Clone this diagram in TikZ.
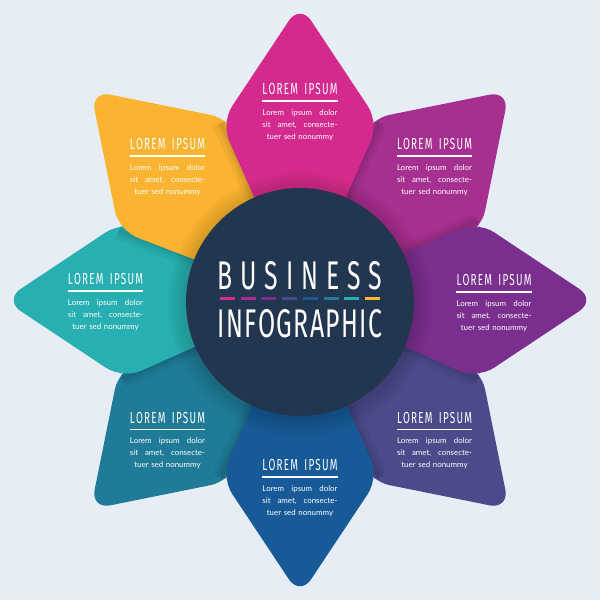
\documentclass[tikz,border=0pt]{standalone}
\usepackage{fontspec}
\usepackage{tikz}
\usetikzlibrary{positioning}
\newfontfamily\headfont[FakeStretch=0.62]{Fira Sans}
\newfontfamily\titlefont[FakeStretch=0.62]{Fira Sans}
\newfontfamily\bodyfont{Lato}

\definecolor{bgpage}{HTML}{E6EDF4}
\definecolor{petalN}{HTML}{D52A8D}
\definecolor{petalNE}{HTML}{A6308F}
\definecolor{petalE}{HTML}{7A2F8E}
\definecolor{petalSE}{HTML}{4B4A8B}
\definecolor{petalS}{HTML}{175A97}
\definecolor{petalSW}{HTML}{1F7B97}
\definecolor{petalW}{HTML}{27AFB1}
\definecolor{petalNW}{HTML}{FAB431}
\definecolor{hubcolor}{HTML}{233650}

\newcommand{\gap}{\hspace{0pt plus 1fill}}
\newcommand{\headtext}{\makebox[75pt][s]{L\gap O\gap R\gap E\gap M\gap\hspace{4pt}\gap I\gap P\gap S\gap U\gap M}}
\newcommand{\bodytext}{\makebox[75pt][s]{Lorem\gap ipsum\gap dolor}\\\makebox[75pt][s]{sit\gap amet,\gap consecte-}\\tuer sed nonummy}

\tikzset{
  petal/.style={fill=#1, rounded corners=20pt},
  edgeshade/.style={draw=black, draw opacity=0.06, line width=4pt, line join=round,
    preaction={draw=black, draw opacity=0.05, line width=10pt, line join=round},
    preaction={draw=black, draw opacity=0.04, line width=18pt, line join=round}},
  hubshade/.style={fill=black, fill opacity=0.025},
  head/.style={text=white, inner sep=0pt, font=\headfont\fontsize{16}{16}\selectfont},
  body/.style={text=white, inner sep=0pt, text width=75pt, align=center,
    font=\bodyfont\fontsize{7.9}{12}\selectfont},
  rule/.style={draw=white, line width=1.6pt},
  title/.style={text=white, inner sep=0pt, font=\titlefont\fontsize{40}{40}\selectfont},
  stripe/.style={fill=#1}
}

\begin{document}
\begin{tikzpicture}[x=1pt,y=1pt]
\useasboundingbox (-300,-300) rectangle (300,300);
\fill[bgpage] (-300,-300) rectangle (300,300);

% petals, lowest first
\draw[edgeshade] (21:194) -- (0,0) -- (69:194);
\fill[petal=petalNE] (0,0) -- (21:194) -- (45:296) -- (69:194) -- cycle;
\draw[edgeshade] (201:194) -- (0,0) -- (249:194);
\fill[petal=petalSW] (0,0) -- (201:194) -- (225:296) -- (249:194) -- cycle;
\draw[edgeshade] (291:194) -- (0,0) -- (339:194);
\fill[petal=petalSE] (0,0) -- (291:194) -- (315:296) -- (339:194) -- cycle;
\draw[edgeshade] (156:194) -- (0,0) -- (204:194);
\fill[petal=petalW] (0,0) -- (156:194) -- (180:296) -- (204:194) -- cycle;
\draw[edgeshade] (111:194) -- (0,0) -- (159:194);
\fill[petal=petalNW] (0,0) -- (111:194) -- (135:296) -- (159:194) -- cycle;
\draw[edgeshade] (66:194) -- (0,0) -- (114:194);
\fill[petal=petalN] (0,0) -- (66:194) -- (90:296) -- (114:194) -- cycle;
\draw[edgeshade] (-24:194) -- (0,0) -- (24:194);
\fill[petal=petalE] (0,0) -- (-24:194) -- (0:296) -- (24:194) -- cycle;
\draw[edgeshade] (246:194) -- (0,0) -- (294:194);
\fill[petal=petalS] (0,0) -- (246:194) -- (270:296) -- (294:194) -- cycle;

% centre
\coordinate (O) at (0,-2);
\fill[hubshade] (0,-4) circle (132);
\fill[hubshade] (0,-4) circle (129);
\fill[hubshade] (0,-4) circle (126);
\fill[hubshade] (0,-4) circle (123);
\fill[hubshade] (0,-4) circle (120);
\fill[hubshade] (0,-4) circle (117);
\node[circle, fill=hubcolor, minimum size=228pt, inner sep=0pt] (hub) at (O) {};
\node[title] (business) at (0,24) {\makebox[165pt][s]{B\gap U\gap S\gap I\gap N\gap E\gap S\gap S}};
\node[title] (infographic) at (0,-23.5) {\makebox[165pt][s]{I\gap N\gap F\gap O\gap G\gap R\gap A\gap P\gap H\gap I\gap C}};
\fill[stripe=petalN] (-80,0) rectangle (-65,2.6);
\fill[stripe=petalNE] (-59.3,0) rectangle (-44.3,2.6);
\fill[stripe=petalE] (-38.6,0) rectangle (-23.6,2.6);
\fill[stripe=petalSE] (-17.9,0) rectangle (-2.9,2.6);
\fill[stripe=petalS] (2.9,0) rectangle (17.9,2.6);
\fill[stripe=petalSW] (23.6,0) rectangle (38.6,2.6);
\fill[stripe=petalW] (44.3,0) rectangle (59.3,2.6);
\fill[stripe=petalNW] (65,0) rectangle (80,2.6);

% text blocks
\node[head] (headN) at (0,211) {\headtext};
\draw[rule] ([yshift=-6pt]headN.south west) -- ([yshift=-6pt]headN.south east);
\node[body, below=20.4pt of headN.center] (bodyN) {\bodytext};

\node[head] (headNE) at (134.5,156) {\headtext};
\draw[rule] ([yshift=-6pt]headNE.south west) -- ([yshift=-6pt]headNE.south east);
\node[body, below=20.4pt of headNE.center] (bodyNE) {\bodytext};

\node[head] (headE) at (194,20) {\headtext};
\draw[rule] ([yshift=-6pt]headE.south west) -- ([yshift=-6pt]headE.south east);
\node[body, below=20.4pt of headE.center] (bodyE) {\bodytext};

\node[head] (headSE) at (134.5,-117.5) {\headtext};
\draw[rule] ([yshift=-6pt]headSE.south west) -- ([yshift=-6pt]headSE.south east);
\node[body, below=20.4pt of headSE.center] (bodySE) {\bodytext};

\node[head] (headS) at (0,-165) {\headtext};
\draw[rule] ([yshift=-6pt]headS.south west) -- ([yshift=-6pt]headS.south east);
\node[body, below=20.4pt of headS.center] (bodyS) {\bodytext};

\node[head] (headSW) at (-132.5,-117.5) {\headtext};
\draw[rule] ([yshift=-6pt]headSW.south west) -- ([yshift=-6pt]headSW.south east);
\node[body, below=20.4pt of headSW.center] (bodySW) {\bodytext};

\node[head] (headW) at (-194.5,21) {\headtext};
\draw[rule] ([yshift=-6pt]headW.south west) -- ([yshift=-6pt]headW.south east);
\node[body, below=20.4pt of headW.center] (bodyW) {\bodytext};

\node[head] (headNW) at (-132.5,156) {\headtext};
\draw[rule] ([yshift=-6pt]headNW.south west) -- ([yshift=-6pt]headNW.south east);
\node[body, below=20.4pt of headNW.center] (bodyNW) {\bodytext};
\end{tikzpicture}
\end{document}
